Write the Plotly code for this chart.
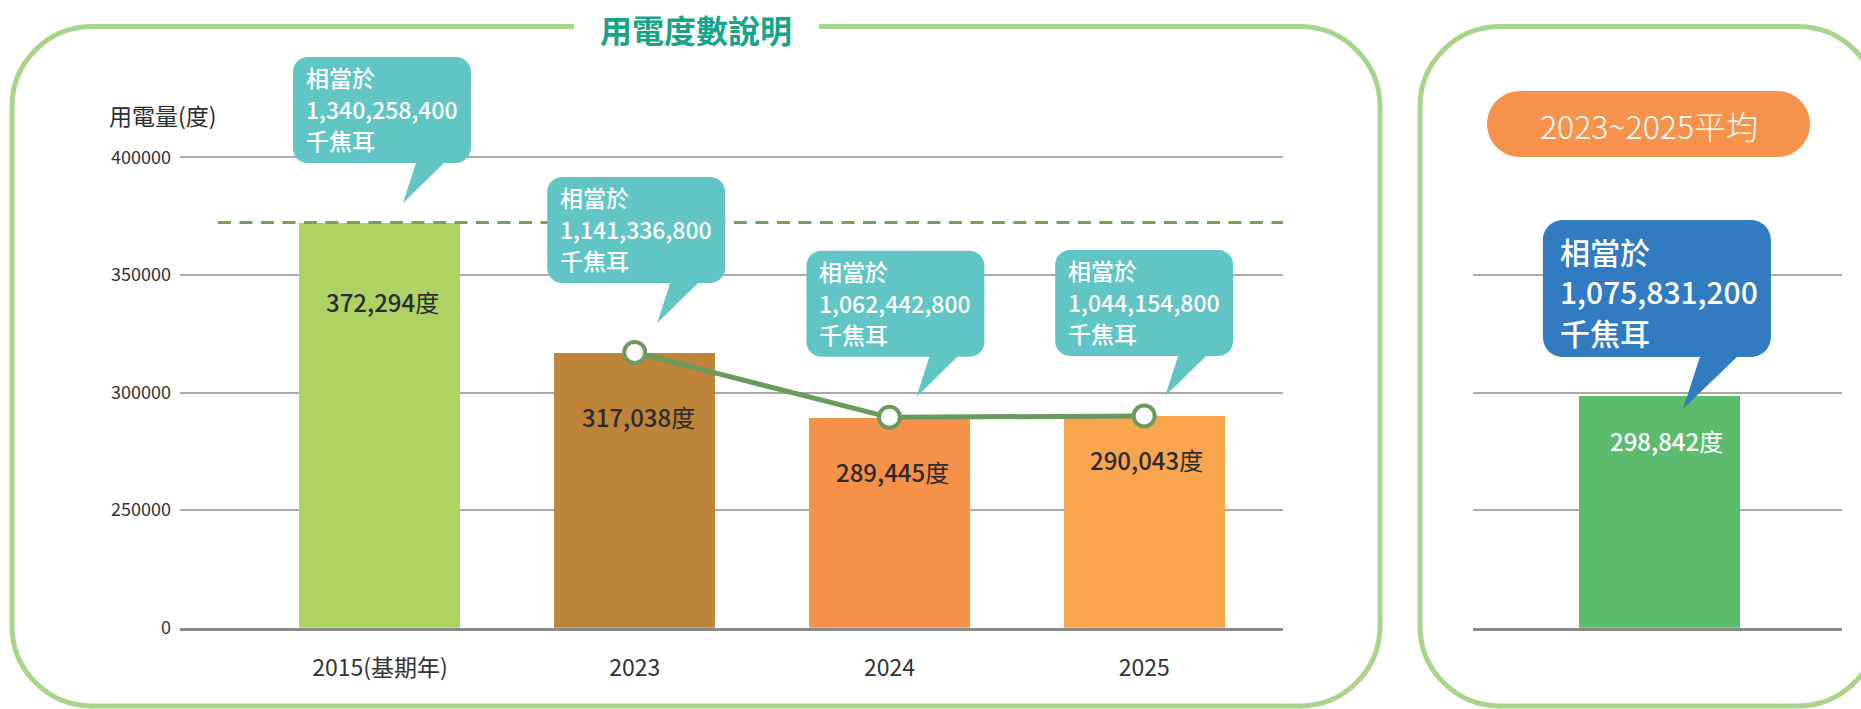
import plotly.graph_objects as go

# ---------------- data ----------------
categories = ["2015(基期年)", "2023", "2024", "2025"]
usage_kwh = [372294, 317038, 289445, 290043]
energy_kj = [1340258400, 1141336800, 1062442800, 1044154800]
trend_start = 1  # the trend line joins 2023, 2024, 2025

avg_title = "2023~2025平均"
avg_usage = 298842
avg_energy = 1075831200

y_tick_values = [0, 250000, 300000, 350000, 400000]
y_axis_title = "用電量(度)"
panel_title = "用電度數說明"
bubble_head = "相當於"
bubble_unit = "千焦耳"
value_unit = "度"

# ---------------- styling / layout ----------------
W, H = 1861, 709
AXIS_BREAK = 200000          # broken axis: "0" sits one grid step under 250000
FONT = "Noto Sans CJK TC, Noto Sans CJK SC, sans-serif"

bar_colors = ["#aed364", "#bd843a", "#f6914a", "#f9a54e"]
avg_bar_color = "#5bbc6d"
teal = "#60c5c4"
blue = "#317bc0"
orange = "#f6924b"
panel_green = "#a9d48b"
title_teal = "#17a589"
line_green = "#6a9a5e"
dash_green = "#75a25a"
text_dark = "#2b2b2b"

# label offsets (px, screen-down positive) from each bar top
bar_label_offsets = [(3, 79.5), (3.5, 64), (3, 54), (2, 44)]
avg_label_offset = (7, 45)
# speech bubble tail tip offsets (px) from each bar top
tip_offsets = [(23, -19.5), (22.5, -29.5), (27, -20.5), (21, -20)]
avg_tip_offset = (23, 13.8)


def disp(v):
    return v - AXIS_BREAK if v > 0 else 0


def px(x, y):
    return x / W, 1 - y / H


K = 0.5523


def rounded_path(L, T, R, B, r, tail=None, flip_y=False, paper=False, open_gap=None):
    """Rounded-rect path from screen px (y down)."""

    def P(x, y):
        if paper:
            a, b = px(x, y)
            return f"{a:.6f},{b:.6f}"
        if flip_y:
            return f"{x:.2f},{-y:.2f}"
        return f"{x:.2f},{y:.2f}"

    k = K * r
    if open_gap:
        gl, gr = open_gap
        s = f"M{P(gl, T)} L{P(L + r, T)} "
        s += f"C{P(L + r - k, T)} {P(L, T + r - k)} {P(L, T + r)} "
        s += f"L{P(L, B - r)} C{P(L, B - r + k)} {P(L + r - k, B)} {P(L + r, B)} "
        s += f"L{P(R - r, B)} C{P(R - r + k, B)} {P(R, B - r + k)} {P(R, B - r)} "
        s += f"L{P(R, T + r)} C{P(R, T + r - k)} {P(R - r + k, T)} {P(R - r, T)} "
        s += f"L{P(gr, T)}"
        return s
    s = f"M{P(L + r, T)} "
    s += f"L{P(R - r, T)} C{P(R - r + k, T)} {P(R, T + r - k)} {P(R, T + r)} "
    s += f"L{P(R, B - r)} C{P(R, B - r + k)} {P(R - r + k, B)} {P(R - r, B)} "
    if tail:
        tbl, tbr, tx, ty = tail
        s += f"L{P(tbr, B)} L{P(tx, ty)} L{P(tbl, B)} "
    s += f"L{P(L + r, B)} C{P(L + r - k, B)} {P(L, B - r + k)} {P(L, B - r)} "
    s += f"L{P(L, T + r)} C{P(L, T + r - k)} {P(L + r - k, T)} {P(L + r, T)} Z"
    return s


def value_text(v):
    return f"<span style='font-weight:500'>{v:,}</span>{value_unit}"


fig = go.Figure()

x_idx = list(range(len(categories)))

# bars (left)
fig.add_trace(go.Bar(
    x=x_idx, y=[disp(v) for v in usage_kwh], width=0.632,
    marker=dict(color=bar_colors, line=dict(width=0)),
    hoverinfo="skip", xaxis="x", yaxis="y", showlegend=False,
))
# trend line 2023-2025
fig.add_trace(go.Scatter(
    x=x_idx[trend_start:], y=[disp(v) for v in usage_kwh[trend_start:]],
    mode="lines+markers", cliponaxis=False,
    line=dict(color=line_green, width=5),
    marker=dict(size=21, color="white", line=dict(color=line_green, width=4)),
    hoverinfo="skip", xaxis="x", yaxis="y", showlegend=False,
))
# average bar (right)
fig.add_trace(go.Bar(
    x=[0], y=[disp(avg_usage)], width=0.632,
    marker=dict(color=avg_bar_color, line=dict(width=0)),
    hoverinfo="skip", xaxis="x2", yaxis="y2", showlegend=False,
))

shapes = []
annotations = []

# panels
shapes.append(dict(type="path", xref="paper", yref="paper", layer="below",
                   path=rounded_path(12, 26.5, 1380, 706, 80, paper=True, open_gap=(574, 819)),
                   line=dict(color=panel_green, width=5)))
shapes.append(dict(type="path", xref="paper", yref="paper", layer="below",
                   path=rounded_path(1420, 26.5, 1878, 706, 80, paper=True),
                   line=dict(color=panel_green, width=5)))
# orange pill
shapes.append(dict(type="path", xref="paper", yref="paper", layer="below",
                   path=rounded_path(1487, 91, 1810, 157, 33, paper=True),
                   fillcolor=orange, line=dict(width=0)))

# dashed baseline at 2015 level
shapes.append(dict(type="line", xref="x", yref="y", layer="above",
                   x0=-0.636, x1=3.545, y0=disp(usage_kwh[0]), y1=disp(usage_kwh[0]),
                   line=dict(color=dash_green, width=3, dash="13px,8.5px")))

# teal bubbles
BW, BH, BR = 178, 106, 15
for i, (v, e) in enumerate(zip(usage_kwh, energy_kj)):
    tdx, tdy = tip_offsets[i]
    L = tdx - 110
    B = tdy - 40
    T = B - BH
    R = L + BW
    shapes.append(dict(type="path", xref="x", yref="y", layer="above",
                       xsizemode="pixel", ysizemode="pixel",
                       xanchor=i, yanchor=disp(v),
                       path=rounded_path(L, T, R, B, BR, tail=(L + 123, L + 151, tdx, tdy), flip_y=True),
                       fillcolor=teal, line=dict(width=0)))
    for txt, dy in zip([bubble_head, f"{e:,}", bubble_unit], [20, 52, 83.5]):
        annotations.append(dict(x=i, y=disp(v), xref="x", yref="y", text=txt,
                                showarrow=False, xanchor="left", yanchor="middle",
                                xshift=L + 11, yshift=-(T + dy),
                                font=dict(size=23, color="white", family=FONT, weight=500)))
    # bar value label
    ox, oy = bar_label_offsets[i]
    annotations.append(dict(x=i, y=disp(v), xref="x", yref="y",
                            text=value_text(v), showarrow=False,
                            xanchor="center", yanchor="middle", xshift=ox, yshift=-oy,
                            font=dict(size=24, color=text_dark, family=FONT)))

# blue bubble
tdx, tdy = avg_tip_offset
BW2, BH2, BR2 = 228, 137, 20
L = tdx - 140
B = tdy - 52
T = B - BH2
R = L + BW2
shapes.append(dict(type="path", xref="x2", yref="y2", layer="above",
                   xsizemode="pixel", ysizemode="pixel", xanchor=0, yanchor=disp(avg_usage),
                   path=rounded_path(L, T, R, B, BR2, tail=(L + 157, L + 194, tdx, tdy), flip_y=True),
                   fillcolor=blue, line=dict(width=0)))
for txt, dy in zip([bubble_head, f"{avg_energy:,}", bubble_unit], [31, 71, 112]):
    annotations.append(dict(x=0, y=disp(avg_usage), xref="x2", yref="y2", text=txt,
                            showarrow=False, xanchor="left", yanchor="middle",
                            xshift=L + 15, yshift=-(T + dy),
                            font=dict(size=30, color="white", family=FONT, weight=500)))
ox, oy = avg_label_offset
annotations.append(dict(x=0, y=disp(avg_usage), xref="x2", yref="y2",
                        text=value_text(avg_usage), showarrow=False,
                        xanchor="center", yanchor="middle", xshift=ox, yshift=-oy,
                        font=dict(size=24, color="white", family=FONT)))

# titles
tx, ty = px(696, 28.5)
annotations.append(dict(x=tx, y=ty, xref="paper", yref="paper", text=panel_title,
                        showarrow=False, xanchor="center", yanchor="middle",
                        font=dict(size=32, color=title_teal, family=FONT, weight=700)))
tx, ty = px(1648.5, 124.5)
annotations.append(dict(x=tx, y=ty, xref="paper", yref="paper", text=avg_title,
                        showarrow=False, xanchor="center", yanchor="middle",
                        font=dict(size=32, color="white", family=FONT, weight=300)))
tx, ty = px(107, 115)
annotations.append(dict(x=tx, y=ty, xref="paper", yref="paper", text=y_axis_title,
                        showarrow=False, xanchor="left", yanchor="middle",
                        font=dict(size=23, color=text_dark, family=FONT)))

y_dom = [(H - 627.7) / H, (H - 39.7) / H]
y_range = [0, 250000]
grid = dict(showgrid=True, gridcolor="#aaaaaa", gridwidth=1.5, zeroline=False)

fig.update_layout(
    width=W, height=H, autosize=False,
    margin=dict(l=0, r=0, t=0, b=0, pad=0),
    paper_bgcolor="white", plot_bgcolor="rgba(0,0,0,0)",
    font=dict(family=FONT, color=text_dark),
    bargap=0, showlegend=False,
    xaxis=dict(domain=[180 / W, 1283 / W], range=[-0.785, 3.545], automargin=False,
               tickvals=x_idx, ticktext=categories, ticks="",
               tickfont=dict(size=23, color="#333333"), ticklabelstandoff=18,
               showgrid=False, zeroline=False, showline=True,
               linecolor="#8a8a8a", linewidth=3, fixedrange=True),
    yaxis=dict(domain=y_dom, range=y_range, automargin=False,
               tickvals=[disp(v) for v in y_tick_values],
               ticktext=[str(v) for v in y_tick_values], ticks="",
               tickfont=dict(size=18, color="#333333"), ticklabelstandoff=8,
               fixedrange=True, **grid),
    xaxis2=dict(domain=[1473 / W, 1842 / W], range=[-0.734, 0.715], automargin=False,
                showticklabels=False, ticks="", showgrid=False, zeroline=False,
                showline=True, linecolor="#8a8a8a", linewidth=3, fixedrange=True),
    yaxis2=dict(domain=y_dom, range=y_range, anchor="x2", automargin=False,
                tickvals=[disp(v) for v in y_tick_values[:-1]],
                showticklabels=False, ticks="", fixedrange=True, **grid),
    shapes=shapes,
    annotations=annotations,
)

fig.write_html("out.html")
